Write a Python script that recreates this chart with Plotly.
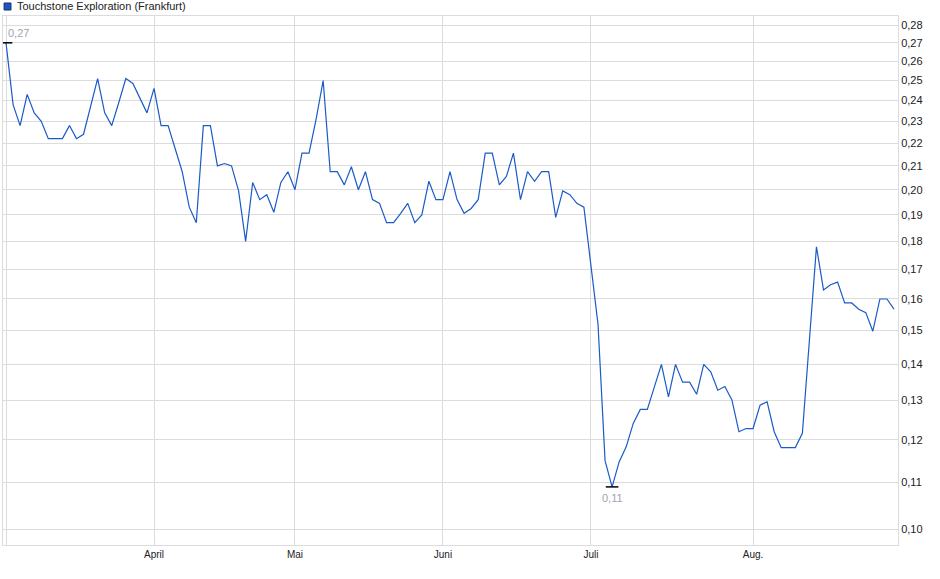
import numpy as np
import pandas as pd
import plotly.graph_objects as go

# ---- data ----
holidays = ["2025-04-18", "2025-04-21", "2025-05-01"]
days = pd.bdate_range("2025-03-03", "2025-08-29")
days = [d.strftime("%Y-%m-%d") for d in days if d.strftime("%Y-%m-%d") not in holidays]

price = [
    0.270, 0.238, 0.228, 0.243, 0.234, 0.230, 0.222, 0.222, 0.222, 0.228,
    0.222, 0.224, 0.237, 0.251, 0.234, 0.228, 0.239, 0.251, 0.2485, 0.241,
    0.234, 0.246, 0.228, 0.228, 0.218, 0.2075, 0.193, 0.187, 0.228, 0.228,
    0.210, 0.211, 0.210, 0.1995, 0.180, 0.203, 0.196, 0.198, 0.191, 0.203,
    0.2075, 0.200, 0.2155, 0.2155, 0.231, 0.250, 0.2075, 0.2075, 0.202, 0.2096,
    0.200, 0.2075, 0.196, 0.1945, 0.187, 0.187, 0.1906, 0.1945, 0.187, 0.190,
    0.2035, 0.196, 0.196, 0.2075, 0.196, 0.1906, 0.1925, 0.196, 0.2155, 0.2155,
    0.202, 0.2055, 0.2155, 0.196, 0.2075, 0.2035, 0.2075, 0.2075, 0.189, 0.1995,
    0.198, 0.1945, 0.193, 0.172, 0.152, 0.115, 0.109, 0.1147, 0.1183, 0.1241,
    0.1277, 0.1277, 0.1338, 0.140, 0.131, 0.140, 0.135, 0.135, 0.1317, 0.140,
    0.1379, 0.1328, 0.1338, 0.1302, 0.122, 0.1228, 0.1228, 0.1288, 0.1297, 0.122,
    0.1181, 0.1181, 0.1181, 0.1216, 0.147, 0.178, 0.163, 0.1647, 0.1656, 0.1587,
    0.1587, 0.1567, 0.1556, 0.1498, 0.160, 0.160, 0.1567,
]

month_ticks = ["2025-03-03", "2025-04-01", "2025-05-02", "2025-06-02", "2025-07-01", "2025-08-01"]
month_labels = ["", "April", "Mai", "Juni", "Juli", "Aug."]

y_ticks = [0.10, 0.11, 0.12, 0.13, 0.14, 0.15, 0.16, 0.17, 0.18, 0.19,
           0.20, 0.21, 0.22, 0.23, 0.24, 0.25, 0.26, 0.27, 0.28]
y_labels = [f"{v:.2f}".replace(".", ",") for v in y_ticks]

name = "Touchstone Exploration (Frankfurt)"
blue = "#1a5bc8"
grid = "#dcdcdc"

i_max = int(np.argmax(price))
i_min = int(np.argmin(price))

fig = go.Figure()
fig.add_trace(go.Scatter(x=days, y=price, mode="lines", name=name,
                         line=dict(color=blue, width=1.2), showlegend=False))
# high / low markers
fig.add_trace(go.Scatter(x=[days[i_max], days[i_min]], y=[price[i_max], price[i_min]],
                         mode="markers", showlegend=False, hoverinfo="skip",
                         marker=dict(symbol="line-ew", size=9,
                                     line=dict(color="black", width=1.5))))

fig.add_annotation(x=days[i_max], y=np.log10(price[i_max]), text="0,27", showarrow=False,
                   xanchor="left", yanchor="bottom", xshift=0, yshift=2,
                   font=dict(size=11, color="#a0a4b0"))
fig.add_annotation(x=days[i_min], y=np.log10(price[i_min]), text="0,11", showarrow=False,
                   xanchor="center", yanchor="top", yshift=-3,
                   font=dict(size=11, color="#a0a4b0"))

# legend box + text
fig.add_shape(type="rect", xref="paper", yref="paper",
              x0=0.0012, x1=0.0089, y0=1.0113, y1=1.0246,
              fillcolor="#1f55c0", line=dict(color="#17306a", width=1))
fig.add_annotation(xref="paper", yref="paper", x=0.0138, y=1.0185, text=name,
                   showarrow=False, xanchor="left", yanchor="middle",
                   font=dict(size=11, color="#222222"))

fig.update_xaxes(type="category", range=[-0.43, 126.57],
                 tickvals=month_ticks, ticktext=month_labels,
                 showgrid=True, gridcolor=grid, gridwidth=1,
                 showline=True, linecolor=grid, mirror=True,
                 ticks="", tickfont=dict(size=10, color="#222222"),
                 zeroline=False)
fig.update_yaxes(type="log", range=[np.log10(0.0968), np.log10(0.2852)],
                 side="right", tickvals=y_ticks, ticktext=y_labels,
                 showgrid=True, gridcolor=grid, gridwidth=1,
                 showline=True, linecolor=grid, mirror=True,
                 ticks="", tickfont=dict(size=11, color="#222222"),
                 zeroline=False)

fig.update_layout(width=940, height=579,
                  margin=dict(l=3, r=42, t=16, b=34),
                  paper_bgcolor="white", plot_bgcolor="white",
                  font=dict(family="Liberation Sans, Arial, sans-serif"),
                  hovermode="x")

# page body has a default margin, drop it so the chart sits at 0,0
fig.write_html("out.html", config={"displayModeBar": False},
               post_script="document.body.style.margin='0';")
